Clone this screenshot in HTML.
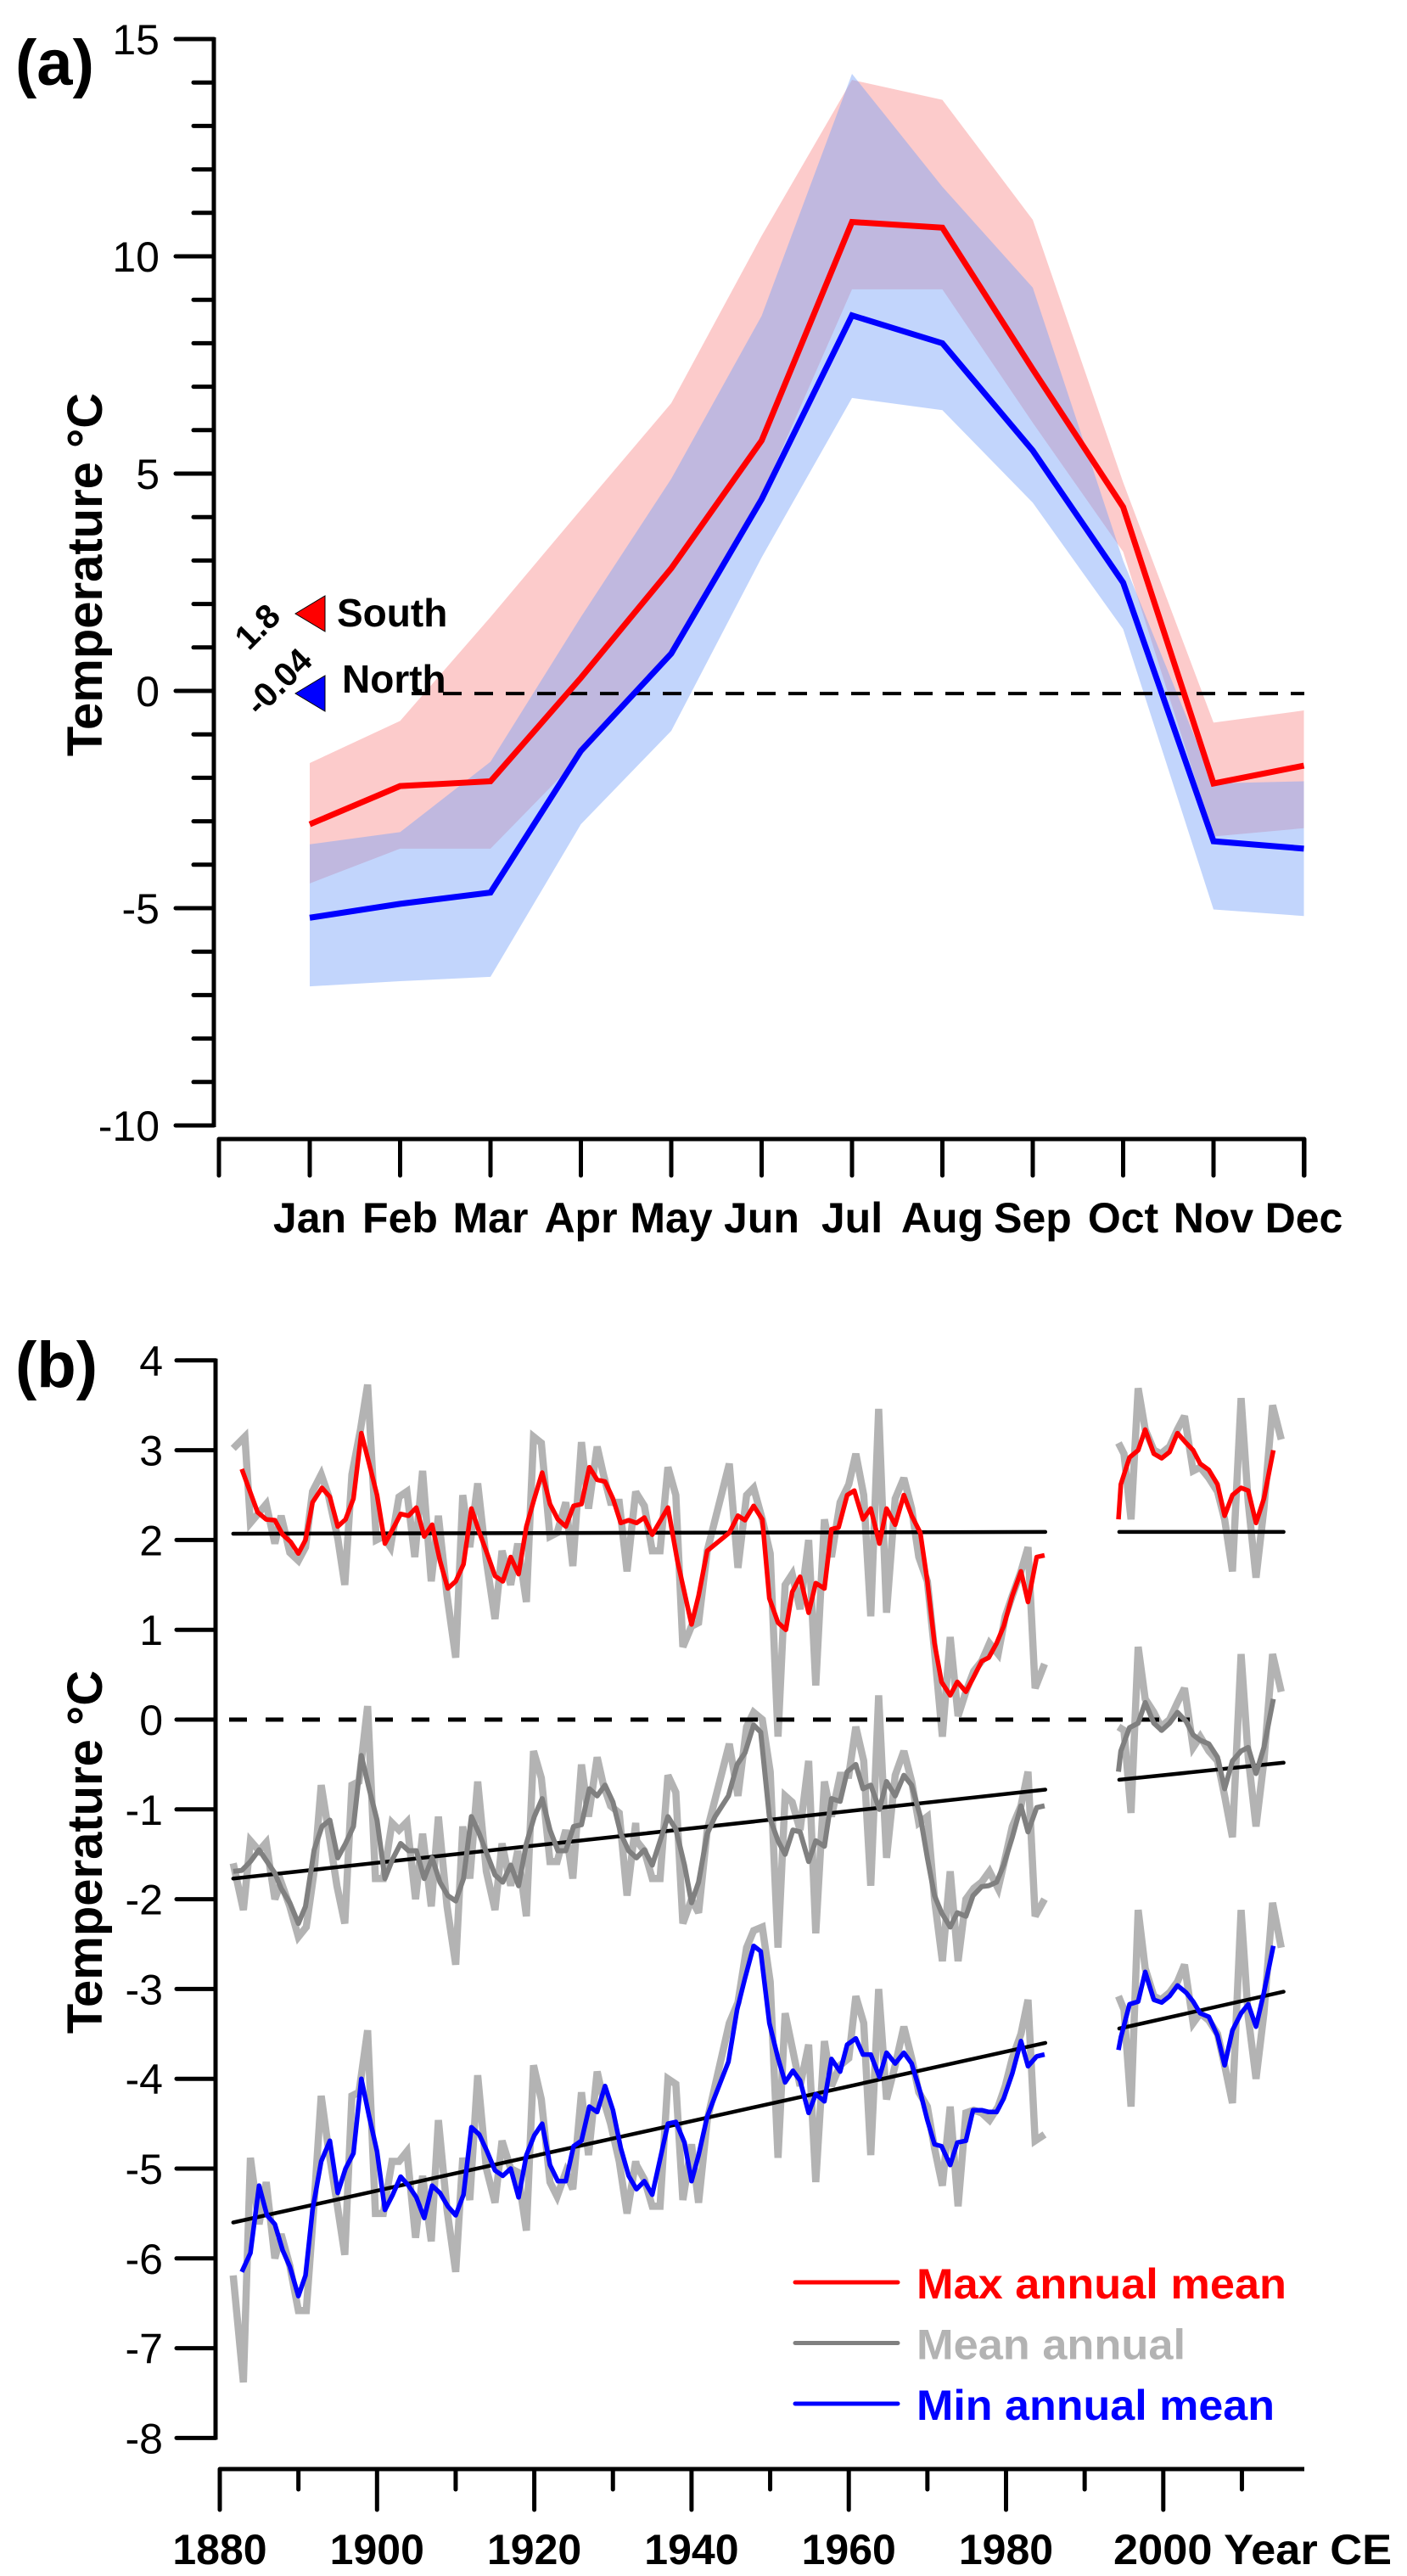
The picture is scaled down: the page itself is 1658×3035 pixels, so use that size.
<!DOCTYPE html>
<html><head><meta charset="utf-8"><style>
html,body{margin:0;padding:0;background:#fff;}
svg{display:block;font-family:"Liberation Sans",Arial,sans-serif;}
</style></head><body>
<svg id="fig" width="1658" height="3035" viewBox="0 0 1658 3035" xmlns="http://www.w3.org/2000/svg">
<g id="pa"></g>
<g id="pb"></g>
</svg>
<script>
// ---------- Panel (a) data ----------
const months = ["Jan","Feb","Mar","Apr","May","Jun","Jul","Aug","Sep","Oct","Nov","Dec"];
const southMean  = [-3.07,-2.19,-2.08,0.3,2.82,5.76,10.79,10.66,7.4,4.23,-2.13,-1.72];
const northMean  = [-5.22,-4.9,-4.64,-1.38,0.86,4.41,8.64,8.0,5.53,2.49,-3.46,-3.63];
const southUpper = [-1.66,-0.69,1.7,4.17,6.62,10.47,14.06,13.6,10.84,4.8,-0.73,-0.45];
const southLower = [-4.43,-3.63,-3.63,-1.5,0.8,4.5,9.24,9.24,6.17,3.2,-3.35,-3.16];
const northUpper = [-3.53,-3.25,-1.63,1.7,4.88,8.63,14.2,11.6,9.28,3.0,-2.13,-2.08];
const northLower = [-6.8,-6.68,-6.58,-3.07,-0.92,3.07,6.74,6.46,4.33,1.42,-5.03,-5.18];
const aTicks = [15,10,5,0,-5,-10];

// ---------- Panel (b) data ----------
const rawMaxYearsL = [1881.7,1883.2,1883.9,1885.9,1887,1887.8,1888.9,1890,1890.9,1891.8,1892.9,1893.8,1895,1895.9,1896.8,1897.9,1898.8,1899.9,1900.8,1901.7,1902.8,1903.8,1904.8,1905.8,1906.9,1907.8,1908.9,1910,1910.9,1911.8,1912.8,1913.9,1915,1915.9,1917,1917.9,1919,1919.9,1920.9,1922,1922.9,1924,1924.9,1926,1926.9,1928,1928.8,1929.7,1930.8,1931.8,1932.9,
1933,1934,1935,1936,1937,1938,1938.9,1940,1940.9,1942,1944.8,1945.9,1947,1947.9,1949,1950,1951,1951.9,1952.8,1953.8,1954.9,1955.8,1956.9,1957.8,1958.9,1960,1960.9,1961.9,1962.8,1963.8,1964.8,1965.9,1967,1968,1968.9,1970,1970.9,1971.9,1972.9,1973.9,1974.9,1975.9,1976.9,1977.9,1979,1979.9,1980.8,1981.9,1982.8,1983.7,1984.9];
const rawMaxL = [3.02,3.15,2.19,2.4,1.96,2.27,1.86,1.77,1.92,2.54,2.73,2.5,2.02,1.5,2.73,3.23,3.73,2.0,2.04,1.92,2.48,2.54,1.81,2.77,1.54,2.27,1.38,0.69,2.5,1.92,2.63,1.77,1.12,1.88,1.5,1.96,1.31,3.15,3.08,2.04,2.08,2.42,1.71,3.09,2.35,3.04,2.73,2.42,2.42,1.65,2.54,
2.52,2.38,1.88,1.88,2.81,2.5,0.81,1.04,1.08,1.88,2.85,1.69,2.5,2.58,2.23,1.85,-0.19,1.5,1.62,1.23,2.0,0.38,2.23,1.81,2.42,2.62,2.96,2.5,1.15,3.46,1.19,2.46,2.69,2.35,1.81,1.54,0.77,-0.19,0.92,0.04,0.31,0.54,0.65,0.85,0.73,1.15,1.38,1.65,1.92,0.35,0.62];
const rawYearsL = [1881.7,1883,1883.9,1885,1885.9,1887,1887.8,1888.9,1890,1891,1892,1892.9,1893.8,1894.9,1895.9,1896.8,1897.7,1898.8,1899.8,1900.8,1901.9,1902.8,1903.8,1904.9,1905.8,1906.9,1907.8,1908.9,1910,1910.9,1911.8,1912.8,1913.9,1915,1915.9,1917,1917.9,1919,1919.9,1920.9,1922,1922.9,1924,1924.9,1926,1926.9,1928,1928.8,1929.7,1930.8,1931.8,1932.9,
1933,1934,1935,1936,1937,1938,1938.9,1940,1940.9,1942,1944.8,1945.9,1947,1947.9,1949,1950,1951,1951.9,1952.8,1953.8,1954.9,1955.8,1956.9,1957.8,1958.9,1960,1960.9,1961.9,1962.8,1963.8,1964.8,1965.9,1967,1968,1968.9,1970,1970.9,1971.9,1972.9,1973.9,1974.9,1975.9,1976.9,1977.9,1979,1979.9,1980.8,1981.9,1982.8,1983.7,1984.9];
const rawMeanL = [-1.6,-2.12,-1.35,-1.46,-1.37,-2.0,-1.81,-2.08,-2.42,-2.31,-1.69,-0.73,-1.23,-1.85,-2.27,-0.73,-0.69,0.15,-1.77,-1.77,-1.15,-1.23,-1.14,-2.0,-1.27,-2.08,-1.08,-2.08,-2.73,-1.19,-1.77,-0.69,-1.69,-2.12,-1.38,-1.85,-1.46,-2.19,-0.35,-0.65,-1.58,-1.58,-1.23,-1.77,-0.5,-1.08,-0.42,-0.73,-0.96,-1.04,-1.96,-1.15,
-1.35,-1.46,-1.77,-1.77,-0.62,-0.81,-2.27,-2.0,-2.15,-1.23,-0.27,-0.85,-0.08,0.08,0,-0.58,-2.54,-0.85,-0.92,-1.23,-0.46,-2.38,-0.69,-1.08,-0.62,-0.62,-0.08,-0.46,-1.85,0.27,-1.54,-0.62,-0.35,-0.69,-1.15,-1.08,-2.0,-2.69,-1.69,-2.69,-2.0,-1.88,-1.81,-1.69,-1.88,-1.54,-1.19,-0.96,-0.58,-2.19,-2.0];
const rawMinL = [-6.19,-7.38,-4.88,-5.62,-5.15,-6.0,-5.73,-6.08,-6.58,-6.58,-5.38,-4.19,-4.77,-5.38,-5.96,-4.19,-4.15,-3.46,-5.5,-5.5,-4.92,-4.92,-4.81,-5.77,-5.08,-5.81,-4.46,-5.46,-6.15,-4.88,-5.35,-3.96,-5.0,-5.38,-4.69,-5.0,-5.04,-5.69,-3.85,-4.23,-5.15,-5.31,-5.04,-5.23,-4.15,-4.85,-3.92,-4.23,-4.5,-4.92,-5.5,-4.92,
-4.96,-5.12,-5.42,-5.42,-4.0,-4.06,-5.35,-4.73,-5.38,-4.46,-3.38,-3.15,-2.54,-2.35,-2.31,-2.92,-4.88,-3.27,-3.65,-4.08,-3.62,-5.15,-3.58,-4.08,-3.85,-3.77,-3.08,-3.38,-4.85,-3.0,-4.23,-3.85,-3.42,-3.77,-4.15,-4.31,-4.77,-5.19,-4.31,-5.42,-4.38,-4.35,-4.38,-4.46,-4.31,-4.08,-3.77,-3.5,-3.12,-4.69,-4.62];
const rawYearsR = [1994.3,1995,1995.9,1996.8,1997.7,1998.8,1999.7,2000.8,2001.8,2002.7,2003.8,2004.7,2005.8,2006.9,2007.8,2008.8,2009.9,2010.8,2011.8,2012.8,2013.9,2015];
const rawMaxR  = [3.08,2.96,2.23,3.69,3.23,3.0,2.96,3.04,3.23,3.38,2.77,2.81,2.69,2.54,2.23,1.65,3.58,2.42,1.58,2.35,3.5,3.12];
const rawMeanR = [-0.08,-0.12,-1.04,0.81,0.23,0.08,-0.08,0,0.19,0.35,-0.31,-0.19,-0.35,-0.46,-0.85,-1.31,0.73,-0.42,-1.19,-0.46,0.73,0.31];
const rawMinR  = [-3.08,-3.23,-4.31,-2.12,-2.77,-3.08,-3.12,-3.04,-2.92,-2.73,-3.38,-3.27,-3.35,-3.5,-3.85,-4.27,-2.12,-3.31,-4.0,-3.27,-2.04,-2.54];

const smMaxYearsL = [1882.8,1884.8,1885.9,1887,1888,1889,1890,1890.9,1891.8,1893,1894,1895,1896,1897,1898,1899,1900,1901,1902,1903,1904,1905,1906,1907,1908,1909,1910,1911,1912,1913,1914,1915,1916,1917,1918,1919,1920,1921,1922,1923,1924,1925,1926,1927,1928,1929,1930,1931,1932,1933,
1934,1935,1937,1938.2,1940,1940.9,1942,1944.8,1945.9,1946.8,1947.9,1949,1949.9,1951,1952,1952.8,1953.8,1954.9,1955.8,1956.9,1957.8,1958.7,1959.8,1960.7,1961.8,1962.8,1963.9,1964.8,1965.9,1967,1968,1969.1,1970,1970.9,1971.8,1972.9,1973.8,1974.9,1975.8,1976.9,1977.8,1978.8,1979.7,1980.8,1981.9,1982.8,1983.9,1984.9];
const smMaxL = [2.79,2.31,2.23,2.22,2.06,1.98,1.85,2.0,2.42,2.58,2.48,2.15,2.23,2.46,3.19,2.85,2.5,1.96,2.12,2.29,2.27,2.36,2.04,2.17,1.77,1.46,1.54,1.73,2.35,2.09,1.85,1.6,1.54,1.81,1.62,2.15,2.46,2.75,2.4,2.23,2.15,2.38,2.4,2.81,2.67,2.65,2.46,2.19,2.22,2.19,
2.25,2.06,2.36,1.77,1.06,1.38,1.88,2.08,2.27,2.22,2.38,2.23,1.35,1.08,1.0,1.42,1.59,1.19,1.52,1.46,2.12,2.14,2.5,2.55,2.23,2.35,1.96,2.35,2.17,2.5,2.27,2.08,1.54,0.85,0.42,0.27,0.42,0.31,0.46,0.65,0.69,0.85,1.04,1.38,1.65,1.31,1.81,1.83];
const smMeanYearsL = [1881.7,1882.8,1883.9,1885,1886,1887,1887.8,1888.9,1890,1890.9,1892,1893,1894,1895,1896,1897,1898,1899,1900,1901,1902,1903,1904,1905,1906,1907,1908,1909,1910,1911,1912,1913,1914,1915,1916,1917,1918,1919,1920,1921,1922,1923,1924,1925,1926,1927,1928,1929,1930,1931,1932,
1933,1934,1935,1937,1938,1939.1,1940,1940.9,1942,1943,1944.7,1945.8,1946.8,1947.9,1948.8,1949.9,1951,1951.9,1952.9,1953.8,1954.9,1955.8,1956.9,1957.8,1958.9,1959.8,1960.9,1961.8,1962.8,1963.9,1964.8,1965.9,1967,1968,1969.1,1970,1970.9,1971.8,1972.9,1973.8,1974.9,1975.8,1976.9,1977.8,1978.8,1979.7,1980.8,1981.9,1982.8,1983.9,1984.9];
const smMeanL = [-1.69,-1.68,-1.58,-1.45,-1.58,-1.71,-1.88,-2.04,-2.27,-2.08,-1.45,-1.19,-1.12,-1.54,-1.38,-1.19,-0.4,-0.77,-1.12,-1.77,-1.55,-1.38,-1.46,-1.46,-1.77,-1.54,-1.81,-1.96,-2.02,-1.77,-1.08,-1.27,-1.5,-1.73,-1.81,-1.62,-1.85,-1.38,-1.08,-0.88,-1.23,-1.46,-1.46,-1.19,-1.17,-0.77,-0.85,-0.73,-0.92,-1.27,-1.46,
-1.54,-1.45,-1.62,-1.08,-1.22,-1.62,-2.04,-1.81,-1.27,-1.08,-0.85,-0.5,-0.37,-0.06,-0.14,-1.08,-1.35,-1.5,-1.23,-1.25,-1.58,-1.35,-1.41,-0.88,-0.91,-0.58,-0.5,-0.77,-0.73,-1.0,-0.69,-0.85,-0.62,-0.73,-1.08,-1.54,-1.96,-2.15,-2.31,-2.15,-2.19,-1.96,-1.86,-1.85,-1.81,-1.62,-1.31,-0.96,-1.25,-0.98,-0.96];
const smMinYearsL = [1882.8,1883.9,1885,1886,1887,1888,1888.9,1890,1890.9,1891.8,1892.9,1894,1895,1896,1897,1898,1899,1900,1901,1902,1903,1904,1905,1906,1907,1908,1909,1910,1911,1912,1913,1914,1915,1916,1917,1918,1919,1920,1921,1922,1923,1924,1925,1926,1927,1928,1929,1930,1931,1932,
1933,1934,1935,1937,1938,1939.1,1940,1940.9,1942,1943,1944.7,1945.8,1946.8,1947.9,1948.8,1949.9,1951,1951.9,1952.9,1953.8,1954.9,1955.8,1956.9,1957.8,1958.9,1959.8,1960.9,1961.8,1962.8,1963.9,1964.8,1965.9,1967,1968,1969.1,1970,1970.9,1971.8,1972.9,1973.8,1974.9,1975.8,1976.9,1977.8,1978.8,1979.7,1980.8,1981.9,1982.8,1983.9,1984.9];
const smMinL = [-6.15,-5.94,-5.19,-5.52,-5.62,-5.91,-6.09,-6.42,-6.19,-5.46,-4.92,-4.69,-5.27,-5.0,-4.83,-4.0,-4.42,-4.81,-5.46,-5.29,-5.09,-5.19,-5.32,-5.55,-5.19,-5.27,-5.42,-5.52,-5.29,-4.54,-4.62,-4.81,-5.02,-5.08,-5.0,-5.32,-4.85,-4.63,-4.5,-4.96,-5.14,-5.14,-4.75,-4.69,-4.31,-4.37,-4.08,-4.35,-4.77,-5.08,
-5.23,-5.14,-5.29,-4.5,-4.48,-4.71,-5.14,-4.85,-4.42,-4.19,-3.81,-3.23,-2.88,-2.52,-2.58,-3.38,-3.77,-4.04,-3.91,-4.02,-4.38,-4.17,-4.25,-3.78,-3.92,-3.62,-3.55,-3.73,-3.73,-3.98,-3.71,-3.83,-3.71,-3.83,-4.15,-4.46,-4.73,-4.75,-4.96,-4.71,-4.69,-4.35,-4.35,-4.37,-4.37,-4.22,-3.94,-3.58,-3.86,-3.75,-3.73];
const smYearsR = [1994.3,1994.6,1995.7,1996.8,1997.7,1998.8,1999.8,2000.8,2001.8,2002.9,2003.8,2004.7,2005.8,2006.9,2007.8,2008.8,2009.9,2010.8,2011.8,2012.8,2014];
const smMaxR  = [2.23,2.62,2.92,3.0,3.23,2.96,2.91,2.98,3.19,3.08,3.0,2.85,2.78,2.62,2.27,2.5,2.58,2.55,2.19,2.46,3.0];
const smMeanR = [-0.58,-0.35,-0.09,-0.04,0.19,-0.04,-0.12,-0.04,0.08,-0.02,-0.17,-0.23,-0.27,-0.42,-0.77,-0.46,-0.35,-0.31,-0.6,-0.31,0.23];
const smMinR  = [-3.68,-3.54,-3.17,-3.14,-2.81,-3.12,-3.15,-3.08,-2.96,-3.04,-3.14,-3.27,-3.31,-3.52,-3.85,-3.46,-3.27,-3.17,-3.42,-3.04,-2.52];

const trendYearsL = [1881.7,1985];
const trendYearsR = [1994.4,2015.3];
const trendMaxL = [2.07,2.09];   const trendMaxR = [2.09,2.09];
const trendMeanL = [-1.77,-0.78]; const trendMeanR = [-0.67,-0.48];
const trendMinL = [-5.6,-3.6];   const trendMinR = [-3.44,-3.03];
const bTicks = [4,3,2,1,0,-1,-2,-3,-4,-5,-6,-7,-8];
const yearTicks = [1880,1900,1920,1940,1960,1980];
const minorYears = [1890,1910,1930,1950,1970,1990,2010];

// ---------- helpers ----------
const NS = "http://www.w3.org/2000/svg";
function mk(parent, tag, attrs, text){
  const e = document.createElementNS(NS, tag);
  for (const k in attrs) e.setAttribute(k, attrs[k]);
  if (text !== undefined) e.textContent = text;
  parent.appendChild(e);
  return e;
}
const ax = i => 365 + i * 106.5;
const ay = v => 814 - v * 51.2;
const bx = yr => 259 + (yr - 1880) * 9.265;
const by = v => 2026 - v * 105.8;

const pa = document.getElementById('pa');
const pb = document.getElementById('pb');

// ===== Panel a =====
function band(upper, lower){
  let pts = upper.map((v,i)=>ax(i)+','+ay(v));
  for (let i=lower.length-1;i>=0;i--) pts.push(ax(i)+','+ay(lower[i]));
  return pts.join(' ');
}
let e;
e = mk(pa,'polygon',{points:band(southUpper,southLower),fill:'#fccbcb'});


e = mk(pa,'polygon',{points:band(northUpper,northLower),fill:'rgb(116,160,248)','fill-opacity':'0.44'});



e = mk(pa,'line',{x1:485,y1:ay(-0.06),x2:1537,y2:ay(-0.06),stroke:'#000','stroke-width':4,'stroke-dasharray':'22 15'});



e = mk(pa,'polyline',{points:southMean.map((v,i)=>ax(i)+','+ay(v)).join(' '),fill:'none',stroke:'#ff0000','stroke-width':7,'stroke-linejoin':'miter'});


e = mk(pa,'polyline',{points:northMean.map((v,i)=>ax(i)+','+ay(v)).join(' '),fill:'none',stroke:'#0000ff','stroke-width':7,'stroke-linejoin':'miter'});



e = mk(pa,'line',{x1:252,y1:ay(15)-2,x2:252,y2:ay(-10)+2,stroke:'#000','stroke-width':5});


for (let v=-10; v<=15; v++){
  const major = v%5===0;
  e = mk(pa,'line',{x1:major?207:228,y1:ay(v),x2:252,y2:ay(v),stroke:'#000','stroke-width':5,'stroke-linecap':'round'});
  
  
}
aTicks.forEach(v=>{
  e = mk(pa,'text',{x:188,y:ay(v)+18,'text-anchor':'end','font-size':50,fill:'#000'}, String(v));
  
  
});
e = mk(pa,'polyline',{points:'258,1385 258,1342 1537,1342 1537,1385',fill:'none',stroke:'#000','stroke-width':5,'stroke-linejoin':'round','stroke-linecap':'round'});


months.forEach((m,i)=>{
  e = mk(pa,'line',{x1:ax(i),y1:1342,x2:ax(i),y2:1385,stroke:'#000','stroke-width':5,'stroke-linecap':'round'});
  
  
  e = mk(pa,'text',{x:ax(i),y:1452,'text-anchor':'middle','font-size':50,'font-weight':'bold',fill:'#000'}, m);
  
  
});
e = mk(pa,'text',{x:18,y:100,'font-size':76,'font-weight':'bold'},'(a)');


e = mk(pa,'text',{x:0,y:0,'font-size':58,'font-weight':'bold','text-anchor':'middle',transform:'translate(120,677) rotate(-90)'},'Temperature °C');


e = mk(pa,'polygon',{points:'348,723 383,702 383,744',fill:'#ff0000',stroke:'#000','stroke-width':1});


e = mk(pa,'polygon',{points:'348,817 383,796 383,838',fill:'#0000ff',stroke:'#000','stroke-width':1});


e = mk(pa,'text',{x:397,y:738,'font-size':46,'font-weight':'bold'},'South');


e = mk(pa,'text',{x:403,y:816,'font-size':46,'font-weight':'bold'},'North');


e = mk(pa,'text',{x:0,y:14,'font-size':40,'font-weight':'bold','text-anchor':'middle',transform:'translate(303,738) rotate(-45)'},'1.8');


e = mk(pa,'text',{x:0,y:14,'font-size':40,'font-weight':'bold','text-anchor':'middle',transform:'translate(328,803) rotate(-45)'},'-0.04');



// ===== Panel b =====
function pl(years, vals){ return years.map((y,i)=>bx(y).toFixed(1)+','+by(vals[i]).toFixed(1)).join(' '); }
const RAW = '#b3b3b3';
[[rawMaxYearsL,rawMaxL,'raw-max-line-early'],[rawYearsL,rawMeanL,'raw-mean-line-early'],[rawYearsL,rawMinL,'raw-min-line-early'],
 [rawYearsR,rawMaxR,'raw-max-line-recent'],[rawYearsR,rawMeanR,'raw-mean-line-recent'],[rawYearsR,rawMinR,'raw-min-line-recent']].forEach(s=>{
  e = mk(pb,'polyline',{points:pl(s[0],s[1]),fill:'none',stroke:RAW,'stroke-width':8.5,'stroke-linejoin':'miter','stroke-miterlimit':3});
  
  
});
e = mk(pb,'line',{x1:270,y1:by(0),x2:1402,y2:by(0),stroke:'#000','stroke-width':5,'stroke-dasharray':'21 22'});


[[trendYearsL,trendMaxL],[trendYearsR,trendMaxR],[trendYearsL,trendMeanL],[trendYearsR,trendMeanR],[trendYearsL,trendMinL],[trendYearsR,trendMinR]].forEach(s=>{
  e = mk(pb,'polyline',{points:pl(s[0],s[1]),fill:'none',stroke:'#000','stroke-width':4.5,'stroke-linecap':'round'});
  
  
});
[[smMeanYearsL,smMeanL,'#808080',6,'mean-annual-smoothed-early'],[smYearsR,smMeanR,'#808080',6,'mean-annual-smoothed-recent'],
 [smMaxYearsL,smMaxL,'#ff0000',5.5,'max-annual-mean-early'],[smYearsR,smMaxR,'#ff0000',5.5,'max-annual-mean-recent'],
 [smMinYearsL,smMinL,'#0000ff',5.5,'min-annual-mean-early'],[smYearsR,smMinR,'#0000ff',5.5,'min-annual-mean-recent']].forEach(s=>{
  e = mk(pb,'polyline',{points:pl(s[0],s[1]),fill:'none',stroke:s[2],'stroke-width':s[3],'stroke-linejoin':'round'});
  
  
});
e = mk(pb,'line',{x1:254,y1:by(4)-2,x2:254,y2:by(-8)+2,stroke:'#000','stroke-width':5});


bTicks.forEach(v=>{
  e = mk(pb,'line',{x1:208,y1:by(v),x2:254,y2:by(v),stroke:'#000','stroke-width':5,'stroke-linecap':'round'});
  
  
  e = mk(pb,'text',{x:192,y:by(v)+18,'text-anchor':'end','font-size':50},String(v));
  
  
});
e = mk(pb,'line',{x1:259,y1:2909,x2:1537,y2:2909,stroke:'#000','stroke-width':5});


yearTicks.concat([2000]).forEach(yr=>{
  e = mk(pb,'line',{x1:bx(yr),y1:2909,x2:bx(yr),y2:2957,stroke:'#000','stroke-width':5,'stroke-linecap':'round'});
  
  
});
minorYears.forEach(yr=>{
  e = mk(pb,'line',{x1:bx(yr),y1:2909,x2:bx(yr),y2:2933,stroke:'#000','stroke-width':5,'stroke-linecap':'round'});
  
  
});
yearTicks.forEach(yr=>{
  e = mk(pb,'text',{x:bx(yr),y:3021,'text-anchor':'middle','font-size':50,'font-weight':'bold'},String(yr));
  
  
});
e = mk(pb,'text',{x:1312,y:3021,'font-size':50,'font-weight':'bold',textLength:328,lengthAdjust:'spacingAndGlyphs'},'2000 Year CE');


e = mk(pb,'text',{x:18,y:1634,'font-size':76,'font-weight':'bold'},'(b)');


e = mk(pb,'text',{x:0,y:0,'font-size':58,'font-weight':'bold','text-anchor':'middle',transform:'translate(120,2182) rotate(-90)'},'Temperature °C');


const legendLabels = ['Max annual mean','Mean annual','Min annual mean'];
const legendLineColors = ['#ff0000','#808080','#0000ff'];
const legendTextColors = ['#ff0000','#b3b3b3','#0000ff'];
const legendLens = [436,317,422];
legendLabels.forEach((t,i)=>{
  const ly = 2689 + i*71.5;
  e = mk(pb,'line',{x1:937,y1:ly,x2:1058,y2:ly,stroke:legendLineColors[i],'stroke-width':5,'stroke-linecap':'round'});
  
  
  e = mk(pb,'text',{x:1080,y:ly+19,'font-size':50,'font-weight':'bold',fill:legendTextColors[i],textLength:legendLens[i],lengthAdjust:'spacingAndGlyphs'},t);
  
  
});
</script>
</body></html>
